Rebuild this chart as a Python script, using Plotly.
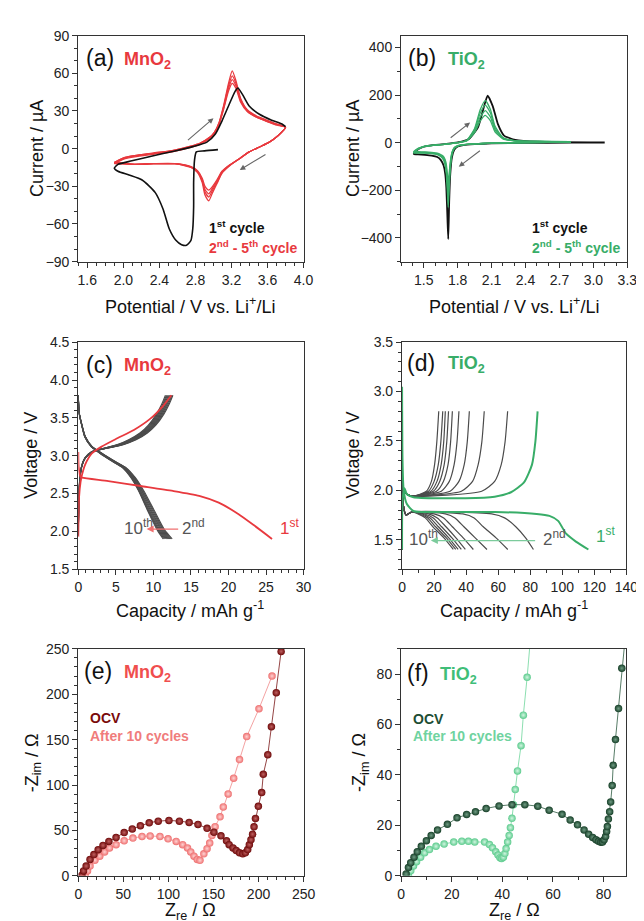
import plotly.graph_objects as go

W, H = 644, 921
FONT = "Liberation Sans, Arial, sans-serif"
RED = "#E8393E"
GREEN = "#38AD68"
GRAY = "#4B4B4B"
BLACK = "#111111"

# ---------------- (a) MnO2 CV ----------------
a_c1_x = [3.05, 2.90, 2.81, 2.79, 2.78, 2.78, 2.77, 2.75, 2.70, 2.646, 2.583, 2.51, 2.44, 2.354, 2.208, 2.063,
          1.94, 1.90, 1.94, 2.094, 2.31, 2.573, 2.78, 2.927, 3.021, 3.094, 3.167, 3.24, 3.271, 3.323, 3.396,
          3.51, 3.646, 3.76, 3.80]
a_c1_y = [-0.8, -1.8, -2.6, -9, -27, -46, -64, -73, -77, -76.5, -73, -64, -48, -35, -25, -21,
          -18, -15.5, -12.5, -9.7, -6, -1.8, 1.8, 5.2, 11.7, 22, 34, 45.6, 48.3, 43, 34, 27.4,
          22.7, 19.6, 17.5]
a_cath_x = [3.80, 3.719, 3.615, 3.51, 3.396, 3.292, 3.177, 3.094, 3.042, 2.99, 2.948, 2.906, 2.875, 2.823,
            2.75, 2.573, 2.333, 2.125, 1.90]
a_cath_y = [
    [17, 10.5, 5, 1.3, -2.6, -7.8, -13.8, -19.6, -27.4, -35, -41.5, -37, -27, -19, -15, -12, -12, -12.5, -11],
    [17, 10.5, 5, 1.3, -2.6, -7.8, -13.5, -19, -26.5, -33, -38.5, -34.5, -25.5, -18.5, -14.8, -12, -12, -12.5, -11],
    [17, 10.5, 5, 1.3, -2.6, -7.8, -13.3, -18.5, -25.5, -31.5, -36, -32.5, -24.5, -18, -14.5, -12, -12, -12.5, -11.5],
    [17, 10.5, 5, 1.3, -2.6, -7.8, -13, -18, -24.5, -30, -33, -30, -23.5, -17.5, -14.3, -12, -12, -12.5, -12],
]
a_anod_x = [1.90, 2.02, 2.125, 2.333, 2.542, 2.75, 2.854, 2.958, 3.01, 3.063, 3.115, 3.167, 3.208, 3.25,
            3.302, 3.375, 3.479, 3.583, 3.688, 3.80]
a_anod_y = [
    [-11, -7, -5.5, -3.5, -1.5, 2, 4.5, 9, 13, 21, 35, 52, 62, 54, 40, 31, 26, 23, 20, 17],
    [-11, -7, -5.5, -3.5, -1.5, 2, 4.5, 9, 13, 20.5, 34, 50, 58, 52, 39, 30.5, 25.5, 22.5, 19.5, 17],
    [-11.5, -7.5, -6, -4, -2, 1.5, 4, 8.5, 12.5, 20, 33, 48, 55, 50, 38, 30, 25, 22, 19.5, 17],
    [-12, -8, -6.5, -4.5, -2.5, 1, 3.5, 8, 12, 19.5, 32, 46, 52, 48, 37, 29.5, 25, 22, 19, 17],
]

# ---------------- (b) TiO2 CV ----------------
b_c1_cath_x = [3.10, 2.80, 2.40, 2.10, 1.95, 1.85, 1.80, 1.77, 1.75, 1.735, 1.725, 1.717, 1.71, 1.70, 1.69,
               1.675, 1.65, 1.62, 1.57, 1.51, 1.45, 1.41]
b_c1_cath_y = [0, 0, -1, -3, -6, -10, -16, -30, -60, -130, -250, -405, -320, -190, -130, -95, -72, -60,
               -54, -51, -49, -48]
b_c1_anod_x = [1.41, 1.45, 1.50, 1.60, 1.70, 1.80, 1.90, 1.98, 2.03, 2.065, 2.11, 2.156, 2.21, 2.31, 2.51, 3.10]
b_c1_anod_y = [-48, -28, -17, -9, -5, 1, 16, 65, 147, 198, 154, 78, 30, 12, 4, 1]
b_cath_x = [2.80, 2.40, 2.10, 1.95, 1.85, 1.80, 1.77, 1.75, 1.735, 1.725, 1.717, 1.71, 1.70, 1.69, 1.675,
            1.65, 1.62, 1.57, 1.51, 1.45, 1.41]
b_cath_y = [
    [3, 0, -2, -5, -9, -14, -25, -50, -110, -190, -272, -210, -130, -95, -72, -58, -50, -46, -44, -44, -44],
    [3, 0, -2, -5, -9, -14, -24, -47, -100, -170, -240, -185, -118, -88, -68, -56, -48, -45, -43, -42, -42],
    [3, 0, -2, -5, -8, -13, -22, -43, -90, -150, -205, -160, -105, -80, -63, -53, -46, -43, -41, -40, -40],
    [3, 0, -2, -5, -8, -12, -20, -40, -80, -130, -170, -135, -92, -72, -58, -50, -44, -41, -39, -38, -38],
]
b_anod_x = [1.41, 1.45, 1.50, 1.60, 1.70, 1.80, 1.88, 1.95, 2.00, 2.045, 2.09, 2.13, 2.20, 2.30, 2.50, 2.80]
b_anod_y = [
    [-44, -27, -17, -10, -6, 0, 10, 60, 140, 177, 140, 70, 22, 9, 5, 4],
    [-42, -26, -16, -10, -6, 0, 9, 55, 125, 158, 125, 62, 20, 9, 5, 4],
    [-40, -25, -16, -10, -6, 0, 8, 48, 108, 135, 108, 54, 18, 8, 5, 4],
    [-38, -24, -15, -10, -6, 0, 7, 42, 92, 115, 92, 46, 16, 8, 5, 4],
]

# ---------------- (c) MnO2 GCD ----------------
c_dis1_q = [0, 0.05, 0.3, 0.5, 4.0, 8.3, 12.6, 16.1, 18.7, 21.3, 23.4, 25.8]
c_dis1_v = [3.05, 2.85, 2.72, 2.71, 2.665, 2.60, 2.535, 2.47, 2.38, 2.23, 2.08, 1.90]
c_ch1_q = [0, 0.1, 0.3, 0.5, 0.9, 1.8, 3.1, 5.2, 7.4, 9.6, 11.3, 12.4]
c_ch1_v = [1.93, 2.45, 2.65, 2.75, 2.88, 3.03, 3.12, 3.23, 3.34, 3.49, 3.66, 3.80]
c_dis_v = [3.80, 3.57, 3.40, 3.25, 3.12, 3.03, 2.92, 2.84, 2.71, 2.54, 2.28, 2.02, 1.90]
c_dis_q = [
    [0, 0.12, 0.50, 0.95, 1.85, 3.20, 5.00, 6.40, 7.60, 8.70, 10.10, 11.50, 12.50],
    [0, 0.12, 0.50, 0.94, 1.83, 3.16, 4.95, 6.33, 7.52, 8.60, 9.98, 11.38, 12.35],
    [0, 0.12, 0.49, 0.93, 1.81, 3.12, 4.90, 6.26, 7.45, 8.50, 9.85, 11.25, 12.20],
    [0, 0.11, 0.49, 0.92, 1.79, 3.08, 4.85, 6.20, 7.37, 8.40, 9.72, 11.12, 12.05],
    [0, 0.11, 0.48, 0.90, 1.77, 3.04, 4.80, 6.13, 7.30, 8.30, 9.60, 11.00, 11.90],
    [0, 0.11, 0.47, 0.89, 1.75, 3.00, 4.75, 6.07, 7.22, 8.20, 9.48, 10.87, 11.75],
    [0, 0.10, 0.47, 0.88, 1.73, 2.96, 4.70, 6.00, 7.15, 8.10, 9.36, 10.74, 11.60],
    [0, 0.10, 0.46, 0.86, 1.71, 2.93, 4.65, 5.95, 7.07, 8.05, 9.28, 10.62, 11.45],
    [0, 0.10, 0.45, 0.85, 1.70, 2.90, 4.60, 5.90, 7.00, 8.00, 9.20, 10.50, 11.30],
]
c_ch_v = [1.95, 2.60, 2.85, 2.97, 3.05, 3.08, 3.11, 3.15, 3.21, 3.30, 3.40, 3.55, 3.68, 3.80]
c_ch_q = [
    [0, 0.15, 0.45, 0.95, 1.90, 2.90, 4.40, 6.10, 7.70, 9.20, 10.30, 11.40, 12.10, 12.60],
    [0, 0.15, 0.44, 0.94, 1.88, 2.86, 4.33, 6.00, 7.58, 9.08, 10.18, 11.28, 11.98, 12.48],
    [0, 0.14, 0.44, 0.93, 1.85, 2.83, 4.27, 5.90, 7.45, 8.95, 10.05, 11.15, 11.85, 12.35],
    [0, 0.14, 0.43, 0.92, 1.83, 2.79, 4.21, 5.81, 7.33, 8.83, 9.93, 11.03, 11.73, 12.23],
    [0, 0.14, 0.43, 0.91, 1.81, 2.76, 4.15, 5.72, 7.21, 8.71, 9.81, 10.91, 11.61, 12.11],
    [0, 0.13, 0.42, 0.89, 1.78, 2.72, 4.08, 5.62, 7.08, 8.58, 9.68, 10.78, 11.48, 11.98],
    [0, 0.13, 0.41, 0.88, 1.76, 2.68, 4.02, 5.52, 6.95, 8.45, 9.55, 10.65, 11.35, 11.85],
    [0, 0.12, 0.41, 0.86, 1.73, 2.64, 3.96, 5.41, 6.83, 8.33, 9.43, 10.53, 11.23, 11.73],
    [0, 0.12, 0.40, 0.85, 1.70, 2.60, 3.90, 5.30, 6.70, 8.20, 9.30, 10.40, 11.10, 11.60],
]

# ---------------- (d) TiO2 GCD ----------------
d_dis1_q = [0, 0.3, 1.0, 3.0, 7.0, 13.0, 30, 58, 84, 92, 97.4, 102.4, 108.5, 116.3]
d_dis1_v = [3.05, 2.30, 2.00, 1.86, 1.79, 1.78, 1.78, 1.78, 1.76, 1.74, 1.69, 1.56, 1.48, 1.40]
d_ch1_q = [0, 0.3, 1.5, 3.0, 7.1, 39.6, 57.8, 68.0, 76.1, 81.1, 83.2, 84.6]
d_ch1_v = [1.40, 1.90, 2.02, 1.96, 1.93, 1.92, 1.935, 1.98, 2.08, 2.26, 2.49, 2.80]
d_dis_v = [2.80, 1.85, 1.75, 1.78, 1.76, 1.72, 1.63, 1.52, 1.40]
d_dis_q = [
    [0, 0.8, 2.5, 6, 56, 64, 71, 77, 82],
    [0, 0.8, 2.5, 6, 38, 45, 50.7, 58.5, 66],
    [0, 0.8, 2.5, 6, 27, 33, 38.6, 45.5, 53],
    [0, 0.8, 2.5, 6, 20, 26, 31.4, 38, 44.5],
    [0, 0.8, 2.5, 6, 16.5, 22, 27.4, 33.5, 39.5],
    [0, 0.8, 2.5, 6, 14, 19.5, 24.7, 31, 37],
    [0, 0.8, 2.5, 6, 12.5, 17.5, 22.7, 29, 35],
    [0, 0.8, 2.5, 6, 11, 16, 20.9, 27.5, 33.5],
    [0, 0.8, 2.5, 6, 10, 14.5, 19.3, 26, 32],
]
d_ch_v = [1.40, 2.00, 1.96, 1.94, 1.99, 2.09, 2.26, 2.49, 2.80]
d_ch_q = [
    [0, 0.8, 3, 7, 49.7, 57.8, 61.9, 64.3, 65.9],
    [0, 0.8, 3, 7, 37, 44, 47.5, 49.8, 51.3],
    [0, 0.8, 3, 7, 30, 35.5, 38.8, 40.7, 42],
    [0, 0.8, 3, 7, 24.5, 29.5, 32.5, 34.3, 35.5],
    [0, 0.8, 3, 7, 21.5, 25.8, 28.7, 30.3, 31.4],
    [0, 0.8, 3, 7, 19.5, 23.5, 26.3, 27.9, 29],
    [0, 0.8, 3, 7, 18, 21.8, 24.4, 26, 27],
    [0, 0.8, 3, 7, 16.5, 20, 22.6, 24.2, 25.4],
    [0, 0.8, 3, 7, 15.2, 18.3, 20.3, 21.7, 22.9],
]

# ---------------- (e) MnO2 EIS ----------------
e_ocv_re = [4, 5.8, 8.7, 13, 17.3, 22, 27.4, 33.9, 41.9, 50.9, 59.9, 68.9, 78.7, 88.7, 100.6, 112.2, 123,
            132.8, 142.9, 150.5, 158.3, 164.5, 167.4, 171.7, 175.3, 178.9, 182.5, 185.4, 188, 189.8, 191.6,
            193.4, 195, 196.6, 199.8, 203.5, 205.3, 210.3, 214.3, 219.7, 225.1]
e_ocv_im = [0.7, 5.4, 10.8, 18, 23.4, 28.8, 33.5, 37.9, 42.2, 47.6, 51.6, 55.2, 58.4, 60.2, 61, 60.2, 58.8,
            56.6, 52.3, 48, 44, 38.6, 34.3, 30.7, 27.8, 25.3, 24.2, 25.3, 28.9, 34.3, 39.7, 45.8, 54, 63.1,
            76.5, 91.7, 111.8, 133.4, 164.2, 201.7, 247.1]
e_cyc_re = [7.6, 10.2, 13, 18.4, 23.8, 29.2, 34.6, 41.9, 50.9, 60.6, 70.7, 79.7, 90.6, 99.6, 108.6, 115.8,
            121.2, 124.8, 128.4, 132, 135, 139.3, 142.9, 145.8, 148.3, 151.8, 157.3, 160.9, 166.3, 172.4,
            178.9, 186.9, 200.5, 215]
e_cyc_im = [0, 5.4, 10.8, 17, 21.6, 26.3, 30.7, 34.3, 38.6, 41.5, 43.3, 43.9, 43.3, 40.7, 37.9, 34.3, 30.7,
            26.3, 21.6, 18, 17, 24.2, 29.9, 36.1, 44.4, 54.1, 64.9, 75.8, 90.2, 107.5, 128, 153.3, 184, 220]

# ---------------- (f) TiO2 EIS ----------------
f_ocv_re = [2.0, 2.9, 3.8, 5.1, 6.4, 8.0, 10.0, 11.9, 14.4, 18.3, 22.1, 25.9, 29.4, 33.6, 38.7, 43.8, 48.9,
            54.0, 58.5, 63.6, 66.8, 69.7, 72.3, 74.1, 75.7, 77.0, 78.0, 78.9, 79.6, 80.2, 80.8, 81.2, 81.5,
            81.9, 82.4, 82.8, 83.4, 83.8, 84.7, 85.9, 87.2, 88.7]
f_ocv_im = [0.7, 3.3, 5.2, 7.4, 9.5, 11.7, 13.9, 16.0, 18.2, 20.4, 23.0, 24.3, 25.4, 26.7, 27.7, 28.2, 28.2,
            27.6, 26.0, 24.4, 22.1, 20.2, 18.2, 16.5, 15.2, 14.3, 13.7, 13.3, 13.4, 14.3, 15.6, 17.6, 19.5,
            22.5, 25.4, 29.3, 35.8, 43.8, 54.0, 66.3, 82.3, 96]
f_cyc_re = [2.9, 3.8, 4.9, 6.1, 7.7, 9.3, 11.2, 13.8, 17.0, 20.8, 24.0, 26.6, 29.1, 33.0, 34.9, 36.1, 37.4,
            38.3, 39.1, 39.7, 40.4, 41.0, 41.5, 42.1, 42.7, 43.2, 43.8, 44.4, 45.1, 46.0, 47.4, 48.3, 49.8, 51.2]
f_cyc_im = [0, 2.0, 3.9, 5.6, 7.4, 9.1, 10.4, 11.7, 12.6, 13.4, 13.7, 13.7, 13.4, 13.4, 12.4, 11.1, 9.5,
            8.2, 7.2, 6.9, 7.4, 8.8, 10.8, 13.4, 16.0, 19.1, 22.8, 28.2, 34.2, 41.6, 51.6, 63.7, 78.7, 95]

fig = go.Figure()


def line(x, y, ax, color, width=1.4, shape="spline", smooth=0.6, opacity=1.0):
    kw = dict(color=color, width=width, shape=shape)
    if shape == "spline":
        kw["smoothing"] = smooth
    fig.add_trace(go.Scatter(x=x, y=y, mode="lines", line=kw, opacity=opacity,
                             xaxis="x" + ax, yaxis="y" + ax, showlegend=False, hoverinfo="skip"))


# (a)
for cy, ay in zip(a_cath_y, a_anod_y):
    line(a_cath_x + a_anod_x, cy + ay, "", RED, 1.3)
line(a_c1_x, a_c1_y, "", BLACK, 1.6)

# (b)
line(b_c1_cath_x + b_c1_anod_x, b_c1_cath_y + b_c1_anod_y, "2", BLACK, 1.8, smooth=0.5)
for cy, ay in zip(b_cath_y, b_anod_y):
    line(b_cath_x + b_anod_x, cy + ay, "2", GREEN, 1.3, smooth=0.5)

# (c)
for q in c_dis_q:
    line(q, c_dis_v, "3", GRAY, 1.1)
for q in c_ch_q:
    line(q, c_ch_v, "3", GRAY, 1.1)
line(c_dis1_q, c_dis1_v, "3", RED, 1.8)
line(c_ch1_q, c_ch1_v, "3", RED, 1.8)

# (d)
for q in d_dis_q:
    line(q, d_dis_v, "4", GRAY, 1.2)
for q in d_ch_q:
    line(q, d_ch_v, "4", GRAY, 1.2)
line(d_dis1_q, d_dis1_v, "4", GREEN, 2.0)
line(d_ch1_q, d_ch1_v, "4", GREEN, 2.0)


def eis(x, y, ax, edge, center, lcol):
    fig.add_trace(go.Scatter(x=x, y=y, mode="lines+markers", xaxis="x" + ax, yaxis="y" + ax,
                             line=dict(color=lcol, width=0.8),
                             marker=dict(size=7.5, color=edge, line=dict(width=0),
                                         gradient=dict(type="radial", color=center)),
                             showlegend=False, hoverinfo="skip"))


eis(e_cyc_re, e_cyc_im, "5", "#EE6F6F", "#FFD3D3", "#F08A8A")
eis(e_ocv_re, e_ocv_im, "5", "#6E0A0A", "#C06060", "#7A1515")
eis(f_cyc_re, f_cyc_im, "6", "#5CCB8D", "#D2F5E1", "#6ED69C")
eis(f_ocv_re, f_ocv_im, "6", "#173F28", "#6F9C83", "#2C5A40")

# ---------- axes ----------
panels = {
    "": dict(px=(68, 299), py=(20, 250), xr=[1.5, 4.0], yr=[-90, 90], xd=0.4, x0=1.6, xm=0.1, yd=30, y0=-90, ym=10, xf=".1f", yf=""),
    "2": dict(px=(399, 631), py=(20, 250), xr=[1.3, 3.3], yr=[-500, 450], xd=0.3, x0=1.5, xm=0.1, yd=200, y0=-400, ym=100, xf=".1f", yf=""),
    "3": dict(px=(68, 299), py=(332, 563), xr=[0, 30], yr=[1.5, 4.5], xd=5, x0=0, xm=1, yd=0.5, y0=1.5, ym=0.1, xf="", yf=".1f"),
    "4": dict(px=(400, 630), py=(332, 563), xr=[0, 140], yr=[1.2, 3.5], xd=20, x0=0, xm=10, yd=0.5, y0=1.5, ym=0.1, xf="", yf=".1f"),
    "5": dict(px=(68, 299), py=(644, 875), xr=[0, 250], yr=[0, 250], xd=50, x0=0, xm=10, yd=50, y0=0, ym=10, xf="", yf=""),
    "6": dict(px=(399, 630), py=(644, 875), xr=[0, 89], yr=[0, 90], xd=20, x0=0, xm=10, yd=20, y0=0, ym=10, xf="", yf=""),
}

LC = "#333333"
layout = {}
for k, p in panels.items():
    common = dict(showline=True, linecolor=LC, linewidth=1.2, mirror=True, ticks="outside", ticklen=5,
                  tickwidth=1.1, tickcolor=LC, showgrid=False, zeroline=False,
                  tickfont=dict(family=FONT, size=14, color="#222"))
    layout["xaxis" + k] = dict(common, domain=[p["px"][0] / W, p["px"][1] / W], range=p["xr"],
                               tickmode="linear", tick0=p["x0"], dtick=p["xd"], tickformat=p["xf"],
                               anchor="y" + k,
                               minor=dict(ticks="outside", ticklen=3, tickwidth=1, tickcolor=LC,
                                          dtick=p["xm"], tick0=p["x0"], showgrid=False))
    layout["yaxis" + k] = dict(common, domain=[1 - p["py"][1] / H, 1 - p["py"][0] / H], range=p["yr"],
                               tickmode="linear", tick0=p["y0"], dtick=p["yd"], tickformat=p["yf"],
                               anchor="x" + k,
                               minor=dict(ticks="outside", ticklen=3, tickwidth=1, tickcolor=LC,
                                          dtick=p["ym"], tick0=p["y0"], showgrid=False))

anns = []


def ann(text, x, y, size, color="#111", xanchor="left", angle=0):
    anns.append(dict(text=text, x=x / W, y=1 - y / H, xref="paper", yref="paper", showarrow=False,
                     xanchor=xanchor, yanchor="middle", textangle=angle,
                     font=dict(family=FONT, size=size, color=color)))


def arrow(ax, x0, y0, x1, y1, color, width=1.2, head=2):
    anns.append(dict(x=x1, y=y1, ax=x0, ay=y0, xref="x" + ax, yref="y" + ax, axref="x" + ax,
                     ayref="y" + ax, showarrow=True, arrowhead=head, arrowsize=1, arrowwidth=width,
                     arrowcolor=color, text=""))


# axis titles
ann("Current / µA", 25, 135, 18, xanchor="center", angle=-90)
ann("Potential / V vs. Li<sup>+</sup>/Li", 183, 295, 18, xanchor="center")
ann("Current / µA", 349, 135, 18, xanchor="center", angle=-90)
ann("Potential / V vs. Li<sup>+</sup>/Li", 515, 295, 18, xanchor="center")
ann("Voltage / V", 20, 447, 18, xanchor="center", angle=-90)
ann("Capacity / mAh g<sup>-1</sup>", 183, 604, 18, xanchor="center")
ann("Voltage / V", 350, 447, 18, xanchor="center", angle=-90)
ann("Capacity / mAh g<sup>-1</sup>", 515, 604, 18, xanchor="center")
ann("-Z<sub>im</sub> / Ω", 22, 760, 18, xanchor="center", angle=-90)
ann("Z<sub>re</sub> / Ω", 183, 911, 18, xanchor="center")
ann("-Z<sub>im</sub> / Ω", 358, 760, 18, xanchor="center", angle=-90)
ann("Z<sub>re</sub> / Ω", 515, 911, 18, xanchor="center")

# panel labels
for (lab, lx, ly, mat, mx, col) in [
    ("(a)", 74, 43, "MnO<sub>2</sub>", 113, RED),
    ("(b)", 404, 43, "TiO<sub>2</sub>", 445, GREEN),
    ("(c)", 74, 355, "MnO<sub>2</sub>", 113, RED),
    ("(d)", 403, 353, "TiO<sub>2</sub>", 445, GREEN),
    ("(e)", 72, 667, "MnO<sub>2</sub>", 113, "#F04E4E"),
    ("(f)", 403, 669, "TiO<sub>2</sub>", 437, "#3FBE78"),
]:
    ann(lab, lx, ly, 23)
    ann("<b>" + mat + "</b>", mx, ly + 2, 18, color=col)

ann("<b>1<sup>st</sup> cycle</b>", 200, 215, 14, color=BLACK)
ann("<b>2<sup>nd</sup> - 5<sup>th</sup> cycle</b>", 200, 235, 14, color=RED)
ann("<b>1<sup>st</sup> cycle</b>", 531, 215, 14, color=BLACK)
ann("<b>2<sup>nd</sup> - 5<sup>th</sup> cycle</b>", 531, 235, 14, color=GREEN)

ann("10<sup>th</sup>", 113, 520, 17, color="#555")
ann("2<sup>nd</sup>", 172, 520, 17, color="#555")
ann("1<sup>st</sup>", 273, 520, 17, color=RED)
ann("10<sup>th</sup>", 405, 531, 17, color="#555")
ann("2<sup>nd</sup>", 542, 531, 17, color="#555")
ann("1<sup>st</sup>", 597, 528, 17, color=GREEN)

ann("<b>OCV</b>", 78, 714, 14, color="#7A0A0A")
ann("<b>After 10 cycles</b>", 78, 733, 14, color="#F07C7C")
ann("<b>OCV</b>", 409, 715, 14, color="#1D4D33")
ann("<b>After 10 cycles</b>", 409, 733, 14, color="#6FD3A0")

# arrows
arrow("", 2.70, 5.7, 3.00, 24.3, "#666", 1.1)
arrow("", 3.594, -3.9, 3.292, -17, "#666", 1.1)
arrow("2", 1.725, 16, 1.91, 85, "#666", 1.1)
arrow("2", 2.01, -29, 1.81, -101, "#666", 1.1)
arrow("3", 13.5, 2.03, 9.1, 2.03, "#F07070", 1.4)
arrow("4", 84, 1.49, 18, 1.49, "#7CCB9C", 1.4)

fig.update_layout(width=W, height=H, margin=dict(l=0, r=0, t=0, b=0), paper_bgcolor="white",
                  plot_bgcolor="white", showlegend=False, annotations=anns, **layout)
fig.write_html("out.html")
